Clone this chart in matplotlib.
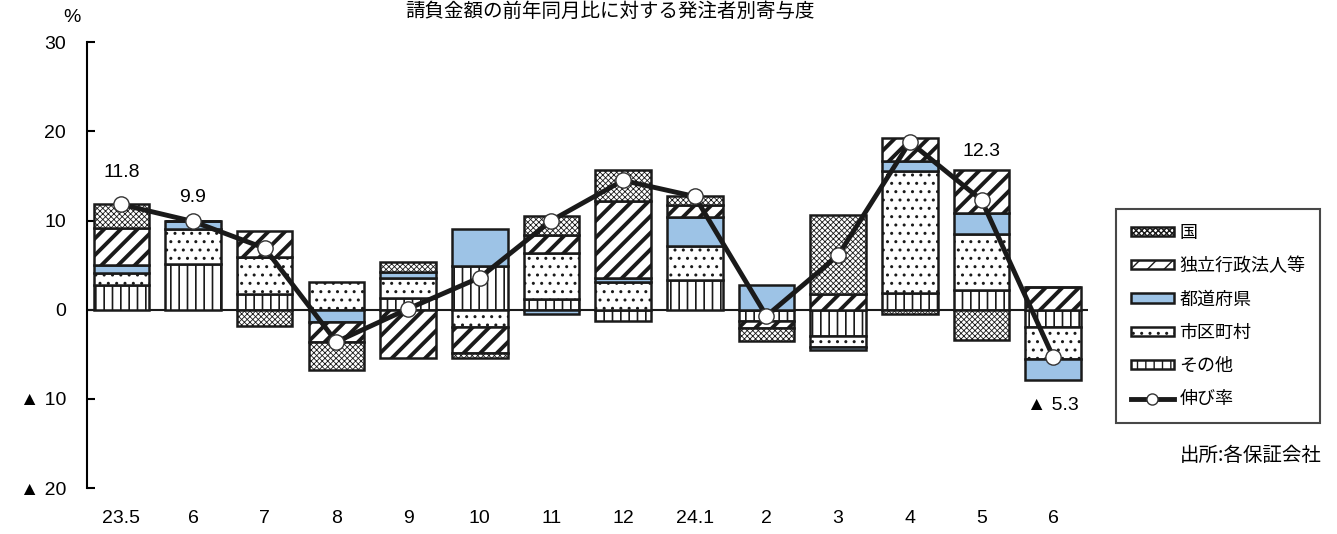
import matplotlib
matplotlib.use("Agg")
import matplotlib.pyplot as plt
from matplotlib.lines import Line2D

plt.rcParams['font.family'] = ['Liberation Sans', 'Noto Sans CJK JP', 'DejaVu Sans']

# data (寄与度, %)
months = ["23.5", "6", "7", "8", "9", "10", "11", "12", "24.1", "2", "3", "4", "5", "6"]
other    = [2.8, 5.1, 1.8, 0.0, 1.3, 4.9, 1.2, -1.3, 3.3, -1.3, -2.9, 1.9, 2.2, -1.9]
muni     = [1.3, 4.0, 4.1, 3.1, 2.3, -1.9, 5.2, 3.1, 3.9, 0.0, -1.3, 13.6, 6.3, -3.6]
pref     = [0.9, 0.8, 0.0, -1.4, 0.6, 4.1, -0.45, 0.45, 3.2, 2.8, -0.3, 1.2, 2.4, -2.4]
agency   = [4.2, 0.0, 2.9, -2.2, -5.4, -3.0, 2.0, 8.6, 1.3, -0.75, 1.8, 2.6, 4.8, 2.6]
national = [2.7, 0.0, -1.8, -3.2, 1.1, -0.5, 2.1, 3.5, 1.0, -1.5, 8.8, -0.45, -3.4, 0.0]
growth   = [11.8, 9.9, 6.9, -3.6, 0.1, 3.6, 10.0, 14.5, 12.7, -0.7, 6.1, 18.8, 12.3, -5.3]
labelled = [0, 1, 12, 13]

names = ["その他", "市区町村", "都道府県", "独立行政法人等", "国"]
values = [other, muni, pref, agency, national]
# face colour, hatch, hatch linewidth
style = {
    "その他": ("white", "||", 1.2),
    "市区町村": ("white", "..", 1.0),
    "都道府県": ("#9DC3E6", "", 1.0),
    "独立行政法人等": ("white", "//", 2.8),
    "国": ("white", "xxxxxx", 0.6),
}

fig = plt.figure(figsize=(13.37, 5.34), dpi=100)
ax = fig.add_axes([0.065, 0.086, 0.749, 0.835])

x = list(range(len(months)))
pos = [0.0] * len(x)
neg = [0.0] * len(x)
bars = {}
for name, vals in zip(names, values):
    fc, hatch, hlw = style[name]
    bottoms = [pos[i] if v >= 0 else neg[i] for i, v in enumerate(vals)]
    with plt.rc_context({'hatch.linewidth': hlw}):
        b = ax.bar(x, vals, width=0.775, bottom=bottoms, color=fc,
                   edgecolor="#1a1a1a", linewidth=1.8, hatch=hatch, zorder=3)
    for p in b:
        if hasattr(p, "set_hatch_linewidth"):
            p.set_hatch_linewidth(hlw)
    bars[name] = b
    for i, v in enumerate(vals):
        if v >= 0:
            pos[i] += v
        else:
            neg[i] += v

ax.axhline(0, color="#1a1a1a", linewidth=1.5, zorder=2)
line, = ax.plot(x, growth, color="#1a1a1a", linewidth=3.5, marker="o", markersize=11,
                markerfacecolor="white", markeredgecolor="#333333", markeredgewidth=1, zorder=5)

offsets = {0: 23, 1: 17, 12: 35, 13: -35}
for i in labelled:
    v = growth[i]
    txt = f"{v:.1f}" if v >= 0 else f"▲ {abs(v):.1f}"
    ax.annotate(txt, (x[i], v), xytext=(0, offsets[i]), textcoords="offset points",
                ha="center", va="center", fontsize=14)

ax.set_xlim(-0.48, 13.49)
ax.set_ylim(-20, 30)
ax.set_yticks([-20, -10, 0, 10, 20, 30])
ax.set_yticklabels(["▲ 20", "▲ 10", "0", "10", "20", "30"], fontsize=14)
ax.set_xticks(x)
ax.set_xticklabels(months, fontsize=14)
ax.tick_params(axis="y", direction="in", length=6, width=1.5, pad=15)
ax.tick_params(axis="x", length=0, pad=16)
for s in ["top", "right", "bottom"]:
    ax.spines[s].set_visible(False)
ax.spines["left"].set_linewidth(1.5)

handles = [bars[n] for n in names[::-1]]
handles.append(Line2D([], [], color="#1a1a1a", linewidth=3.5, marker="o", markersize=8,
                      markerfacecolor="white", markeredgecolor="#333333", markeredgewidth=1))
labels = names[::-1] + ["伸び率"]
leg = fig.legend(handles, labels, loc="upper left", bbox_to_anchor=(0.828, 0.625),
                 frameon=True, fancybox=False, edgecolor="#1a1a1a",
                 handlelength=2.4, handleheight=0.4, handletextpad=0.3,
                 labelspacing=0.85, borderpad=0.8,
                 prop={'family': ['Noto Sans CJK JP', 'DejaVu Sans'], 'size': 13})
leg.get_frame().set_linewidth(1.5)

fig.text(72 / 1337, 1 - 17 / 534, "%", ha="center", va="center", fontsize=14)
fig.text(0.456, 1 - 11 / 534, "請負金額の前年同月比に対する発注者別寄与度", ha="center", va="center",
         fontsize=14, family=["Noto Sans CJK JP", "DejaVu Sans"])
fig.text(1322 / 1337, 1 - 455 / 534, "出所:各保証会社", ha="right", va="center",
         fontsize=14, family=["Noto Sans CJK JP", "DejaVu Sans"])

fig.savefig("out.png", dpi=100)
